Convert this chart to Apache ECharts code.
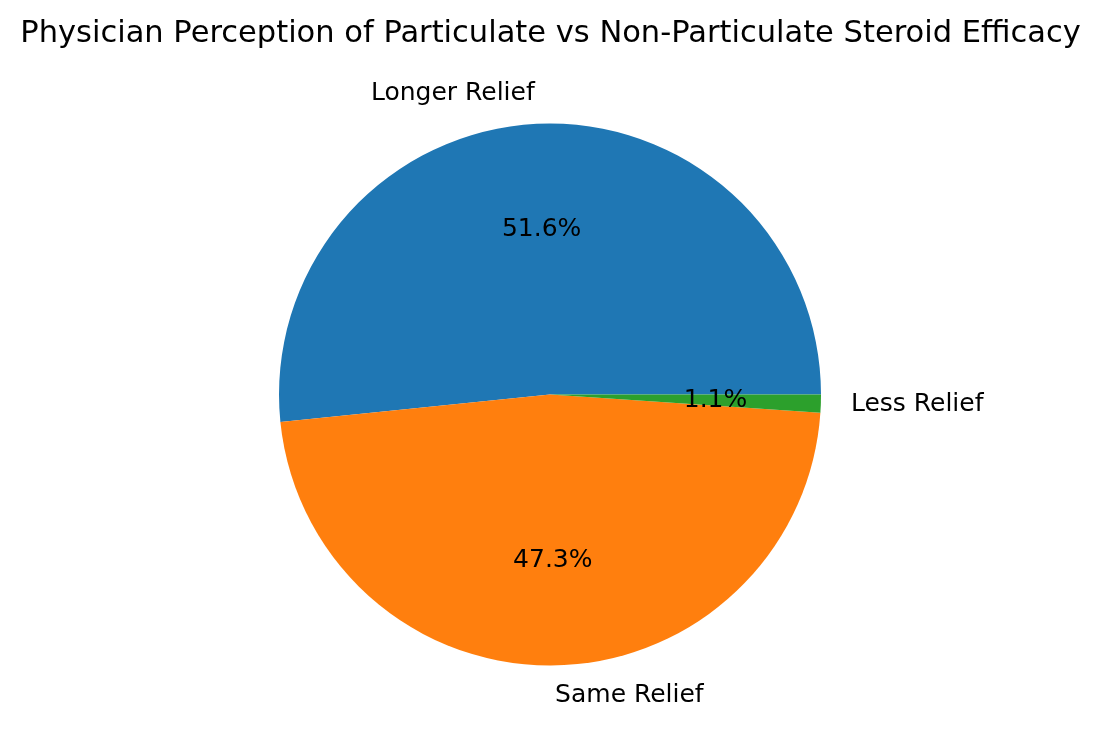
<!DOCTYPE html>
<html>
<head>
<meta charset="utf-8">
<script src="https://cdn.jsdelivr.net/npm/echarts@6/dist/echarts.min.js"></script>
<style>
html,body{margin:0;padding:0;background:#fff;}
#chart{width:1101px;height:752px;}
</style>
</head>
<body>
<div id="chart"></div>
<script>
const categories = ['Longer Relief', 'Same Relief', 'Less Relief'];
const counts = [48, 44, 1];
const colors = ['#1f77b4', '#ff7f0e', '#2ca02c'];
const titleText = 'Physician Perception of Particulate vs Non-Particulate Steroid Efficacy';

const total = counts.reduce((a, b) => a + b, 0);
// mid-angles (counterclockwise from 3 o'clock, matplotlib style)
const midAngles = [];
let acc = 0;
counts.forEach(v => {
  const a = v / total * 360;
  midAngles.push(acc + a / 2);
  acc += a;
});

const R = 271;
const center = [550, 394.5];
const font = 'DejaVu Sans';
const labelSize = 25;

const baseData = categories.map((c, i) => ({ name: c, value: counts[i], itemStyle: { color: colors[i] } }));
const clearData = categories.map((c, i) => ({ name: c, value: counts[i], itemStyle: { color: 'rgba(0,0,0,0)' } }));

const chart = echarts.init(document.getElementById('chart'), null, { renderer: 'canvas' });
chart.setOption({
  backgroundColor: '#ffffff',
  animation: false,
  title: {
    text: titleText,
    left: 'center',
    top: 14,
    textStyle: { fontFamily: font, fontSize: 30.5, fontWeight: 'normal', color: '#000' }
  },
  series: [
    {
      type: 'pie',
      center: center,
      radius: [0, R],
      startAngle: 0,
      clockwise: false,
      avoidLabelOverlap: false,
      silent: true,
      itemStyle: { borderWidth: 0 },
      label: { show: false },
      labelLine: { show: false },
      data: baseData
    },
    {
      type: 'pie',
      center: center,
      radius: [0, R * 1.2],
      startAngle: 0,
      clockwise: false,
      avoidLabelOverlap: false,
      silent: true,
      z: 3,
      itemStyle: { borderWidth: 0 },
      label: {
        show: true,
        position: 'inside',
        rotate: 0,
        fontFamily: font,
        fontSize: labelSize,
        color: '#000',
        formatter: p => (counts[p.dataIndex] / total * 100).toFixed(1) + '%'
      },
      labelLine: { show: false },
      data: clearData
    },
    {
      type: 'pie',
      center: center,
      radius: [0, R * 2.2],
      startAngle: 0,
      clockwise: false,
      avoidLabelOverlap: false,
      silent: true,
      z: 3,
      itemStyle: { borderWidth: 0 },
      label: {
        show: true,
        position: 'inside',
        rotate: 0,
        fontFamily: font,
        fontSize: labelSize,
        color: '#000',
        formatter: p => categories[p.dataIndex]
      },
      labelLayout: function (params) {
        const a = midAngles[params.dataIndex] * Math.PI / 180;
        return { align: Math.cos(a) > 0 ? 'left' : 'right', verticalAlign: 'middle' };
      },
      labelLine: { show: false },
      data: clearData
    }
  ]
});
</script>
</body>
</html>
